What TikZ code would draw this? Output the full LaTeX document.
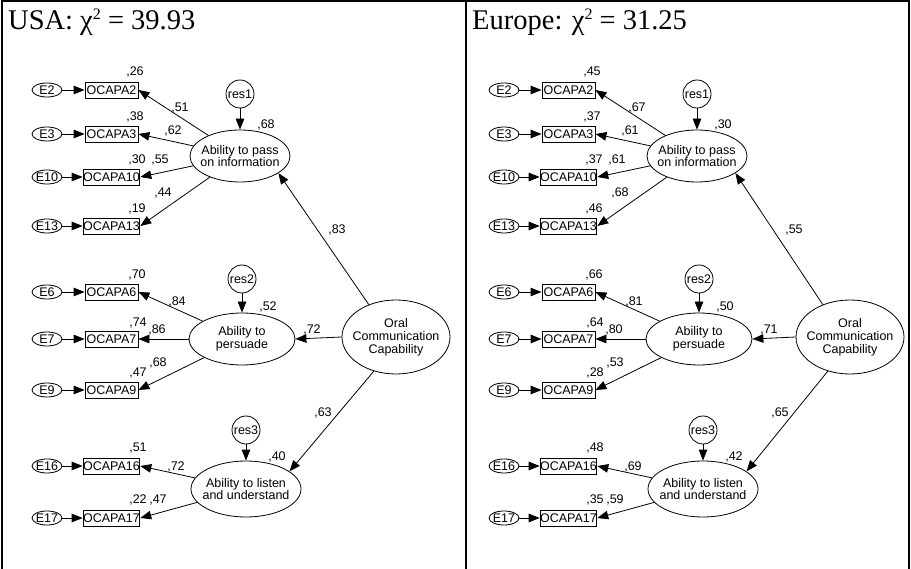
\documentclass[tikz,border=0pt]{standalone}
\usepackage{fontspec}
\setmainfont{Liberation Serif}
\newfontfamily\arialf{Liberation Sans}
\usetikzlibrary{arrows.meta,shapes.geometric}

\tikzset{
  sm/.style={font=\arialf\fontsize{12.5}{12.8}\selectfont},
  lat/.style={ellipse, draw, line width=0.8pt, inner sep=-14pt, align=center, sm},
  err/.style={ellipse, draw, line width=0.8pt, inner sep=-5pt, minimum width=30pt, minimum height=14pt, sm},
  resid/.style={circle, draw, line width=0.8pt, inner sep=-2pt, minimum size=28pt, sm},
  obs/.style={rectangle, draw, line width=0.8pt, inner sep=0pt, minimum width=53pt, minimum height=16pt, sm},
  lbl/.style={inner sep=0pt, sm},
  arr/.style={line width=0.8pt, -{Triangle[length=11pt,width=8.5pt]}},
  frameline/.style={line width=2pt},
  ttl/.style={inner sep=0pt, anchor=base west, font=\fontsize{28.5}{28.5}\selectfont},
}

\newcommand\mkpanel[3]{%
\begin{scope}[xshift=#2pt]
  % indicators
  \node[err] (#1e2)  at (47,90)  {E2};   \node[obs] (#1o2)  at (111.5,90)  {OCAPA2};
  \node[err] (#1e3)  at (47,134) {E3};   \node[obs] (#1o3)  at (111.5,134) {OCAPA3};
  \node[err] (#1e10) at (47,177) {E10};  \node[obs] (#1o10) at (111.5,177) {OCAPA10};
  \node[err] (#1e13) at (47,226) {E13};  \node[obs] (#1o13) at (111.5,226) {OCAPA13};
  \node[err] (#1e6)  at (47,292) {E6};   \node[obs] (#1o6)  at (111.5,292) {OCAPA6};
  \node[err] (#1e7)  at (47,339) {E7};   \node[obs] (#1o7)  at (111.5,339) {OCAPA7};
  \node[err] (#1e9)  at (47,390) {E9};   \node[obs] (#1o9)  at (111.5,390) {OCAPA9};
  \node[err] (#1e16) at (47,466) {E16};  \node[obs] (#1o16) at (111.5,466) {OCAPA16};
  \node[err] (#1e17) at (47,518) {E17};  \node[obs] (#1o17) at (111.5,518) {OCAPA17};
  \foreach \k in {2,3,10,13,6,7,9,16,17} {\draw[arr] (#1e\k) -- (#1o\k);}
  % latent variables
  \node[lat, minimum width=100pt, minimum height=52pt] (#1pass) at (240,156) {Ability to pass\\on information};
  \node[lat, minimum width=106pt, minimum height=52pt] (#1pers) at (242,339) {Ability to\\persuade};
  \node[lat, minimum width=110pt, minimum height=56pt] (#1list) at (246,489) {Ability to listen\\and understand};
  \node[lat, minimum width=108pt, minimum height=74pt] (#1oral) at (#3,337) {Oral\\Communication\\Capability};
  \node[resid] (#1r1) at (240,94)  {res1};
  \node[resid] (#1r2) at (242,279) {res2};
  \node[resid] (#1r3) at (246,430) {res3};
  \draw[arr] (#1r1) -- (#1pass);
  \draw[arr] (#1r2) -- (#1pers);
  \draw[arr] (#1r3) -- (#1list);
  \foreach \k in {2,3,10,13} {\draw[arr] (#1pass) -- (#1o\k.east);}
  \foreach \k in {6,7,9} {\draw[arr] (#1pers) -- (#1o\k.east);}
  \foreach \k in {16,17} {\draw[arr] (#1list) -- (#1o\k.east);}
  \draw[arr] (#1oral.130) -- (#1pass.-24);
  \draw[arr] (#1oral.west) -- (#1pers.east);
  \draw[arr] (#1oral.-123) -- (#1list.22);
  % labels
  \node[lbl] (#1lA) at (135,72)  {\LabA};
  \node[lbl] (#1lB) at (180,108) {\LabB};
  \node[lbl] (#1lC) at (135,117) {\LabC};
  \node[lbl] (#1lD) at (173,131) {\LabD};
  \node[lbl] (#1lE) at (137,160) {\LabE};
  \node[lbl] (#1lF) at (160,160) {\LabF};
  \node[lbl] (#1lG) at (163,193) {\LabG};
  \node[lbl] (#1lH) at (137,209) {\LabH};
  \node[lbl] (#1lI) at (266,125) {\LabI};
  \node[lbl] (#1lJ) at (337,230) {\LabJ};
  \node[lbl] (#1lK) at (137,275) {\LabK};
  \node[lbl] (#1lL) at (177,302) {\LabL};
  \node[lbl] (#1lM) at (138,323) {\LabM};
  \node[lbl] (#1lN) at (157,330) {\LabN};
  \node[lbl] (#1lO) at (138,373) {\LabO};
  \node[lbl] (#1lP) at (158,363) {\LabP};
  \node[lbl] (#1lQ) at (268,307) {\LabQ};
  \node[lbl] (#1lR) at (312,330) {\LabR};
  \node[lbl] (#1lS) at (138,448) {\LabS};
  \node[lbl] (#1lT) at (176,467) {\LabT};
  \node[lbl] (#1lU) at (138,500) {\LabU};
  \node[lbl] (#1lV) at (158,500) {\LabV};
  \node[lbl] (#1lW) at (277,457) {\LabW};
  \node[lbl] (#1lX) at (323,413) {\LabX};
\end{scope}}

\begin{document}
\begin{tikzpicture}[x=1pt,y=-1pt]
  \useasboundingbox (0,0) rectangle (911,569);
  % frame
  \draw[frameline] (1.5,569) -- (1.5,1.5) -- (909,1.5) -- (909,569);
  \draw[frameline] (465.5,1.5) -- (465.5,569);
  % titles
  \node[ttl] (tUSA) at (8,30) {USA: χ\raisebox{10pt}{\fontsize{16}{16}\selectfont 2} = 39.93};
  \node[ttl] (tEU) at (472,30) {Europe: χ\raisebox{10pt}{\fontsize{16}{16}\selectfont 2} = 31.25};
  % USA panel
  \def\LabA{,26}\def\LabB{,51}\def\LabC{,38}\def\LabD{,62}\def\LabE{,30}\def\LabF{,55}
  \def\LabG{,44}\def\LabH{,19}\def\LabI{,68}\def\LabJ{,83}\def\LabK{,70}\def\LabL{,84}
  \def\LabM{,74}\def\LabN{,86}\def\LabO{,47}\def\LabP{,68}\def\LabQ{,52}\def\LabR{,72}
  \def\LabS{,51}\def\LabT{,72}\def\LabU{,22}\def\LabV{,47}\def\LabW{,40}\def\LabX{,63}
  \mkpanel{L}{0}{396}
  % Europe panel
  \def\LabA{,45}\def\LabB{,67}\def\LabC{,37}\def\LabD{,61}\def\LabE{,37}\def\LabF{,61}
  \def\LabG{,68}\def\LabH{,46}\def\LabI{,30}\def\LabJ{,55}\def\LabK{,66}\def\LabL{,81}
  \def\LabM{,64}\def\LabN{,80}\def\LabO{,28}\def\LabP{,53}\def\LabQ{,50}\def\LabR{,71}
  \def\LabS{,48}\def\LabT{,69}\def\LabU{,35}\def\LabV{,59}\def\LabW{,42}\def\LabX{,65}
  \mkpanel{R}{457}{393}
\end{tikzpicture}
\end{document}
